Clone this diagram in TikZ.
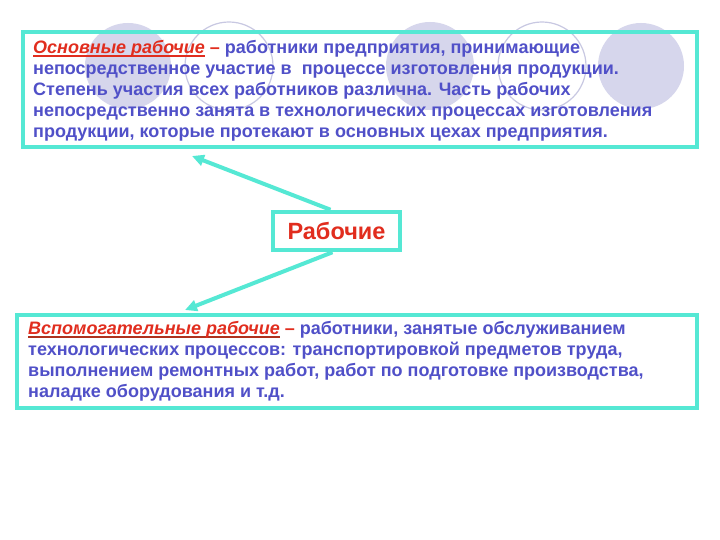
\documentclass[tikz,border=0pt]{standalone}
\usepackage{fontspec}
\setmainfont{Liberation Sans}
\usetikzlibrary{arrows.meta}
\definecolor{cy}{RGB}{85,232,212}
\definecolor{tb}{RGB}{80,80,200}
\definecolor{rd}{RGB}{225,45,30}
\definecolor{drd}{RGB}{175,50,30}
\definecolor{lav}{RGB}{214,214,236}
\definecolor{lavl}{RGB}{200,200,226}
\newcommand{\thickul}[2]{\setbox0\hbox{#2}\rlap{\textcolor{#1}{\rule[-3.5pt]{\wd0}{1.8pt}}}\box0\relax}
\tikzset{
  frame/.style={draw=cy, line width=4.5pt, inner sep=0pt},
  body/.style={anchor=north west, inner sep=0pt, align=left, text=tb,
    font=\bfseries\fontsize{18}{21}\selectfont},
  conn/.style={draw=cy, line width=4pt, -{Triangle[length=12pt,width=11pt]}},
  dotfill/.style={fill=lav, draw=none},
  dotring/.style={draw=lavl, line width=1.2pt, fill=none}
}
\begin{document}
\begin{tikzpicture}[x=1pt,y=-1pt]
\useasboundingbox (0,0) rectangle (720,540);
\fill[white] (0,0) rectangle (720,540);
% decorative circles
\fill[dotfill] (128,66) circle (43);
\draw[dotring] (229,66) circle (44);
\fill[dotfill] (430,66) circle (44);
\draw[dotring] (542,66) circle (44);
\fill[dotfill] (641,66) circle (43);
% boxes
\node[frame, minimum width=674pt, minimum height=115pt] (top) at (360,89.5) {};
\node[frame, minimum width=680pt, minimum height=93pt] (bot) at (357,361.5) {};
\node[frame, minimum width=127pt, minimum height=38pt, text=rd,
      font=\bfseries\fontsize{23.5}{26}\selectfont] (rab) at (336.5,231) {Рабочие};
% texts
\node[body] (toptext) at (33,40) {\thickul{rd}{\textcolor{rd}{\itshape Основные рабочие}} \textcolor{rd}{–} работники предприятия, принимающие\\
непосредственное участие в\ \ процессе изготовления продукции.\\
Степень участия всех работников различна. Часть рабочих\\
непосредственно занята в технологических процессах изготовления\\
продукции, которые протекают в основных цехах предприятия.};
\node[body] (bottext) at (28,321) {\thickul{drd}{\textcolor{rd}{\itshape Вспомогательные рабочие}} \textcolor{rd}{–} работники, занятые обслуживанием\\
технологических процессов: транспортировкой предметов труда,\\
выполнением ремонтных работ, работ по подготовке производства,\\
наладке оборудования и т.д.};
% connectors
\coordinate (t1) at (192,156);
\coordinate (t2) at (185,310);
\draw[conn] ([xshift=-6pt]rab.north) -- (t1);
\draw[conn] ([xshift=-4pt]rab.south) -- (t2);
\end{tikzpicture}
\end{document}
